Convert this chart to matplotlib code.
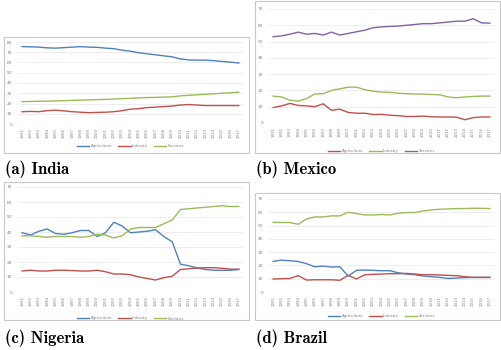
import matplotlib
matplotlib.use("Agg")
import matplotlib.pyplot as plt
from matplotlib.patches import Rectangle

years = [str(y) for y in range(1991, 2018)]

india_agri = [75.5, 75.3, 75.0, 74.3, 74.0, 74.5, 75.0, 75.5, 75.0, 74.8, 74.0, 73.5, 72.0, 71.0, 69.5,
              68.5, 67.5, 66.5, 65.5, 63.5, 62.5, 62.3, 62.3, 61.8, 61.0, 60.3, 59.5]
india_ind = [12.0, 12.3, 12.0, 13.0, 13.5, 12.8, 12.0, 11.5, 11.0, 11.3, 11.5, 12.0, 13.0, 14.5, 15.0,
             16.0, 16.5, 17.0, 17.5, 18.5, 19.0, 18.5, 18.0, 18.0, 18.0, 18.0, 18.0]
india_serv = [21.8, 22.0, 22.2, 22.3, 22.5, 22.8, 23.0, 23.3, 23.5, 23.8, 24.0, 24.3, 24.8, 25.0, 25.5,
              25.8, 26.0, 26.2, 26.5, 27.5, 28.0, 28.5, 29.0, 29.5, 30.0, 30.5, 31.0]

mexico_agri = [9.5, 10.5, 12.0, 10.8, 10.5, 10.0, 11.8, 7.8, 8.5, 6.5, 6.0, 6.0, 5.2, 5.3, 4.8,
               4.5, 4.0, 4.0, 4.2, 3.8, 3.7, 3.7, 3.6, 2.0, 3.3, 3.7, 3.7]
mexico_ind = [16.5, 16.0, 14.0, 13.5, 15.0, 17.8, 18.0, 20.0, 21.0, 22.0, 22.0, 20.5, 19.5, 19.0, 18.8,
              18.3, 18.0, 17.8, 17.8, 17.5, 17.3, 16.0, 15.5, 16.0, 16.3, 16.5, 16.5]
mexico_serv = [53.0, 53.5, 54.5, 55.8, 54.5, 55.0, 54.0, 55.8, 54.0, 55.0, 56.0, 57.0, 58.5, 59.0, 59.3,
               59.5, 60.0, 60.5, 61.0, 61.0, 61.5, 62.0, 62.5, 62.5, 64.0, 61.5, 61.3]

nigeria_agri = [39.5, 38.0, 40.5, 42.0, 39.0, 38.5, 39.5, 41.0, 41.0, 37.0, 39.5, 46.5, 44.0, 39.5, 40.0,
                40.5, 41.5, 37.0, 33.5, 18.5, 17.5, 16.0, 15.0, 14.5, 14.5, 14.5, 15.0]
nigeria_ind = [14.0, 14.5, 14.0, 14.0, 14.5, 14.5, 14.3, 14.0, 14.0, 14.5, 13.5, 12.0, 12.0, 11.5, 10.0,
               9.0, 8.0, 9.5, 10.5, 15.0, 15.5, 16.0, 16.2, 16.2, 15.8, 15.2, 15.2]
nigeria_serv = [37.5, 37.5, 37.0, 36.5, 37.0, 37.0, 37.0, 36.5, 37.0, 38.5, 38.0, 36.0, 37.5, 42.0, 43.0,
                43.0, 43.0, 45.5, 48.0, 55.0, 55.5, 56.0, 56.5, 57.0, 57.5, 57.0, 57.0]

brazil_agri = [23.0, 24.0, 23.5, 23.0, 21.3, 19.0, 19.5, 18.8, 19.0, 12.0, 16.3, 16.5, 16.3, 16.0, 16.0,
               14.5, 13.5, 13.0, 12.0, 11.5, 11.0, 10.2, 10.5, 10.8, 11.0, 11.0, 11.0]
brazil_ind = [9.8, 10.0, 10.2, 12.3, 9.0, 9.2, 9.2, 9.2, 8.8, 12.5, 9.8, 13.0, 13.3, 13.5, 13.8,
              13.8, 14.0, 13.5, 13.0, 13.0, 12.8, 12.5, 12.3, 11.5, 11.0, 11.0, 11.0]
brazil_serv = [52.5, 52.3, 52.3, 51.0, 55.0, 56.5, 56.5, 57.3, 57.3, 60.0, 59.0, 58.0, 58.0, 58.3, 58.0,
               59.3, 59.8, 59.8, 61.0, 61.8, 62.3, 62.5, 62.8, 62.8, 63.0, 63.0, 62.8]

captions = ["(a) India", "(b) Mexico", "(c) Nigeria", "(d) Brazil"]

BLUE = "#4F81BD"
RED = "#C0504D"
GREEN = "#9BBB59"
PURPLE = "#8064A2"

W, H = 502, 350
fig = plt.figure(figsize=(W / 100, H / 100), dpi=100)


def fx(px):
    return px / W


def fy(py):
    return 1 - py / H


def panel(box, plot, ymax, series, caption, cap_y):
    bl, bt, br, bb = box
    fig.patches.append(Rectangle((fx(bl), fy(bb)), fx(br - bl), (bb - bt) / H,
                                 transform=fig.transFigure, fill=False,
                                 edgecolor="#c8c8c8", linewidth=0.8))
    pl, pt, pr, pb = plot
    ax = fig.add_axes([fx(pl), fy(pb), fx(pr - pl), (pb - pt) / H])
    x = list(range(len(years)))
    for label, vals, col in series:
        ax.plot(x, vals, color=col, lw=1.0, label=label)
    ax.set_xlim(-0.5, len(years) - 0.5)
    ax.set_ylim(0, ymax)
    ax.set_yticks(range(0, ymax + 1, 10))
    ax.set_xticks(x)
    ax.set_xticklabels(years, rotation=90, fontsize=2.8, color="#808080")
    ax.tick_params(axis="y", labelsize=3.2, labelcolor="#808080", length=0, pad=4)
    ax.tick_params(axis="x", length=0, pad=3)
    ax.grid(axis="y", color="#e6e6e6", lw=0.5)
    ax.set_axisbelow(True)
    for s in ax.spines.values():
        s.set_visible(False)
    leg = ax.legend(loc="upper center", bbox_to_anchor=(0.5, -0.2), ncol=3, frameon=False,
                    fontsize=2.8, handlelength=3.2, columnspacing=1.5, handletextpad=0.4)
    for t in leg.get_texts():
        t.set_color("#808080")
    fig.text(fx(bl + 1), fy(cap_y), caption, fontsize=12,
             family=["cmb10", "DejaVu Serif"], va="center", ha="left")
    return ax


panel((4, 37, 249, 153), (18, 42, 243, 124), 80,
      [("Agriculture", india_agri, BLUE), ("Industry", india_ind, RED), ("Services", india_serv, GREEN)],
      captions[0], 169)
panel((255, 1, 500, 153), (269, 9, 494, 123), 70,
      [("Agriculture", mexico_agri, RED), ("Industry", mexico_ind, GREEN), ("Services", mexico_serv, PURPLE)],
      captions[1], 169)
panel((4, 182, 249, 320), (18, 187, 243, 292), 70,
      [("Agriculture", nigeria_agri, BLUE), ("Industry", nigeria_ind, RED), ("Services", nigeria_serv, GREEN)],
      captions[2], 338)
panel((255, 193, 500, 320), (269, 199, 494, 292), 70,
      [("Agriculture", brazil_agri, BLUE), ("Industry", brazil_ind, RED), ("Services", brazil_serv, GREEN)],
      captions[3], 338)

fig.savefig("out.png", dpi=100)
